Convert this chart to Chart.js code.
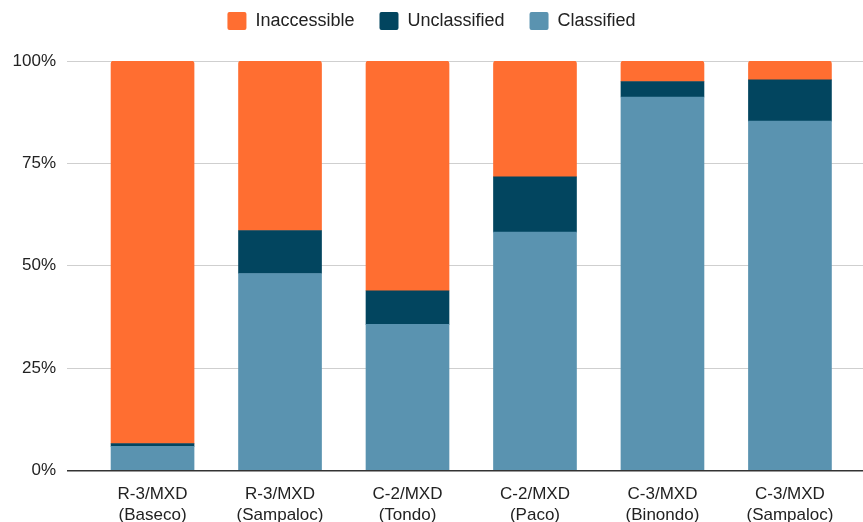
<!DOCTYPE html>
<html>
<head>
<meta charset="utf-8">
<script src="https://cdn.jsdelivr.net/npm/chart.js@4/dist/chart.umd.min.js"></script>
<style>
  html, body { margin: 0; padding: 0; background: #fff; }
  #wrap { width: 863px; height: 522px; }
</style>
</head>
<body>
<div id="wrap"><canvas id="c" width="863" height="522"></canvas></div>
<script>
// Zoning districts (two-line labels)
const districts = [
  ['R-3/MXD', '(Baseco)'],
  ['R-3/MXD', '(Sampaloc)'],
  ['C-2/MXD', '(Tondo)'],
  ['C-2/MXD', '(Paco)'],
  ['C-3/MXD', '(Binondo)'],
  ['C-3/MXD', '(Sampaloc)']
];

// Share of buildings per district, in percent
const classified   = [5.9, 48.1, 35.7, 58.2, 91.2, 85.3];
const unclassified = [0.7, 10.5,  8.2, 13.5,  3.8, 10.1];
const inaccessible = [93.4, 41.4, 56.1, 28.3,  5.0,  4.6];

const yTicks = [0, 25, 50, 75, 100];

const toPoints = arr => arr.map((v, i) => ({ x: i, y: v }));

const FONT = 'Liberation Sans, Arial, sans-serif';

// Leave a fixed band above the plot for the legend
const legendBand = {
  id: 'legendBand',
  beforeInit(chart) {
    const fit = chart.legend.fit;
    chart.legend.fit = function () {
      fit.call(this);
      this.height = 74;
    };
  }
};

new Chart(document.getElementById('c'), {
  type: 'bar',
  data: {
    datasets: [
      { label: 'Classified',   data: toPoints(classified),   backgroundColor: '#5A93B0' },
      { label: 'Unclassified', data: toPoints(unclassified), backgroundColor: '#02455F' },
      { label: 'Inaccessible', data: toPoints(inaccessible), backgroundColor: '#FF6E31',
        borderRadius: { topLeft: 3, topRight: 3, bottomLeft: 0, bottomRight: 0 }, borderSkipped: false }
    ]
  },
  plugins: [legendBand],
  options: {
    responsive: false,
    animation: false,
    layout: { padding: { top: -13, left: 0, right: 0, bottom: 0 } },
    datasets: { bar: { barThickness: 83 } },
    plugins: {
      tooltip: { enabled: false },
      legend: {
        position: 'top',
        reverse: true,
        labels: {
          font: { family: FONT, size: 18 },
          color: '#222',
          boxWidth: 19,
          boxHeight: 18,
          useBorderRadius: true,
          borderRadius: 2,
          padding: 25
        }
      }
    },
    scales: {
      x: {
        type: 'linear',
        stacked: true,
        offset: false,
        min: -0.671,
        max: 5.573,
        afterBuildTicks: scale => { scale.ticks = districts.map((_, i) => ({ value: i })); },
        afterFit: scale => { scale.height = 51.5; },
        ticks: {
          callback: v => districts[v],
          font: { family: FONT, size: 17 },
          color: '#222',
          padding: 6,
          maxRotation: 0,
          autoSkip: false
        },
        grid: { display: false },
        border: { display: false }
      },
      y: {
        stacked: true,
        min: 0,
        max: 100,
        afterBuildTicks: scale => { scale.ticks = yTicks.map(v => ({ value: v })); },
        afterFit: scale => { scale.width = 67; },
        ticks: {
          callback: v => v + '%',
          font: { family: FONT, size: 17 },
          color: '#222',
          padding: 11
        },
        grid: {
          drawTicks: false,
          color: c => c.tick && c.tick.value === 0 ? '#333' : '#cfcfcf',
          lineWidth: c => c.tick && c.tick.value === 0 ? 1.6 : 1
        },
        border: { display: false }
      }
    }
  }
});
</script>
</body>
</html>
